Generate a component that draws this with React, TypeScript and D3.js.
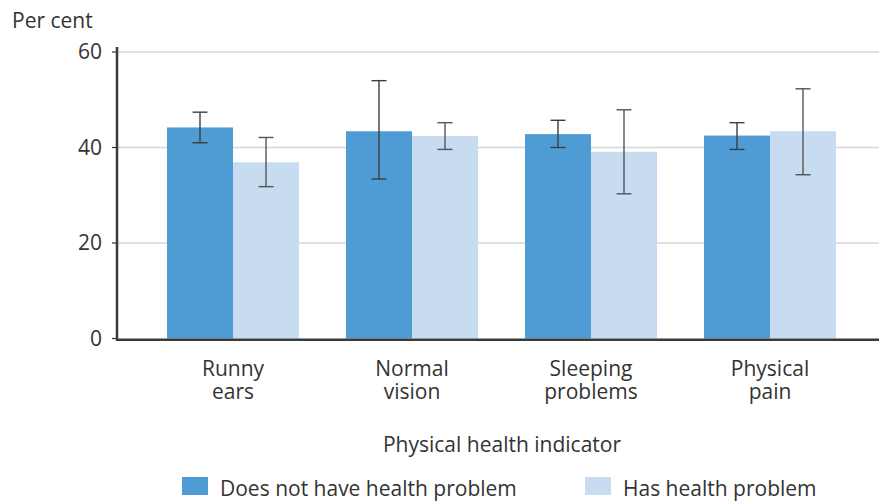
import React from "react";
import * as d3 from "d3";

const categories = [["Runny", "ears"], ["Normal", "vision"], ["Sleeping", "problems"], ["Physical", "pain"]];
const seriesNames = ["Does not have health problem", "Has health problem"];
const noProblem = [44.2, 43.4, 42.8, 42.5];
const noProblemLow = [41.0, 33.4, 40.0, 39.6];
const noProblemHigh = [47.4, 54.0, 45.7, 45.2];
const hasProblem = [36.9, 42.4, 39.1, 43.4];
const hasProblemLow = [31.8, 39.6, 30.3, 34.3];
const hasProblemHigh = [42.1, 45.2, 47.9, 52.3];
const yTicks = [0, 20, 40, 60];
const colors = ["#4f9cd5", "#c7dcf0"];

const W = 879, H = 501;
const FONT = "'Open Sans', 'Noto Sans', sans-serif";
const FS = 21;

export default function App() {
  const y = d3.scaleLinear().domain([0, 60]).range([338.5, 52]);
  const keys = categories.map((c) => c.join(" "));
  const x0 = d3.scaleBand().domain(keys).range([143.5, 859.5]).padding(0);
  const x1 = d3.scaleBand().domain(seriesNames).range([23.5, 155.5]).padding(0);
  const series = [
    { name: seriesNames[0], vals: noProblem, lo: noProblemLow, hi: noProblemHigh },
    { name: seriesNames[1], vals: hasProblem, lo: hasProblemLow, hi: hasProblemHigh },
  ];
  const axisX = 117;
  return (
    <svg width={W} height={H} style={{ position: "absolute", left: 0, top: 0, background: "#fff" }} fontFamily={FONT}>
      <text x={12} y={28} fontSize={FS} fill="#333">Per cent</text>
      {yTicks.map((t) => (
        <g key={t}>
          {t > 0 && <line x1={axisX} x2={W} y1={y(t)} y2={y(t)} stroke="#d3d6db" strokeWidth={1.5} />}
          <line x1={axisX - 5} x2={axisX} y1={y(t)} y2={y(t)} stroke="#333" strokeWidth={1.2} />
          <text x={102} y={y(t) + 7} fontSize={FS} textAnchor="end" fill="#333">{t}</text>
        </g>
      ))}
      {series.map((s, si) =>
        keys.map((k, i) => {
          const bx = (x0(k) as number) + (x1(s.name) as number);
          const bw = x1.bandwidth();
          return (
            <rect key={si + "-" + i} x={bx} y={y(s.vals[i])} width={bw} height={y(0) - y(s.vals[i])} fill={colors[si]} />
          );
        })
      )}
      {series.map((s, si) =>
        keys.map((k, i) => {
          const cx = (x0(k) as number) + (x1(s.name) as number) + x1.bandwidth() / 2;
          return (
            <g key={"e" + si + "-" + i} stroke={si === 0 ? "#3d3d3d" : "#555"} strokeWidth={1.4}>
              <line x1={cx} x2={cx} y1={y(s.hi[i])} y2={y(s.lo[i])} />
              <line x1={cx - 7.5} x2={cx + 7.5} y1={y(s.hi[i])} y2={y(s.hi[i])} />
              <line x1={cx - 7.5} x2={cx + 7.5} y1={y(s.lo[i])} y2={y(s.lo[i])} />
            </g>
          );
        })
      )}
      <line x1={axisX} x2={axisX} y1={47} y2={341} stroke="#3a3a3a" strokeWidth={2.5} />
      <line x1={axisX - 1} x2={W} y1={339.8} y2={339.8} stroke="#3a3a3a" strokeWidth={2.5} />
      {categories.map((c, i) => {
        const cx = (x0(keys[i]) as number) + x0.bandwidth() / 2;
        return (
          <text key={i} x={cx} textAnchor="middle" fontSize={FS} fill="#333">
            <tspan x={cx} y={376}>{c[0]}</tspan>
            <tspan x={cx} y={399}>{c[1]}</tspan>
          </text>
        );
      })}
      <text x={502} y={452} textAnchor="middle" fontSize={FS} fill="#333">Physical health indicator</text>
      {seriesNames.map((n, i) => {
        const lx = i === 0 ? 182 : 585;
        return (
          <g key={n}>
            <rect x={lx} y={477} width={26} height={18} fill={colors[i]} />
            <text x={lx + 38} y={496} fontSize={FS} fill="#333">{n}</text>
          </g>
        );
      })}
    </svg>
  );
}
